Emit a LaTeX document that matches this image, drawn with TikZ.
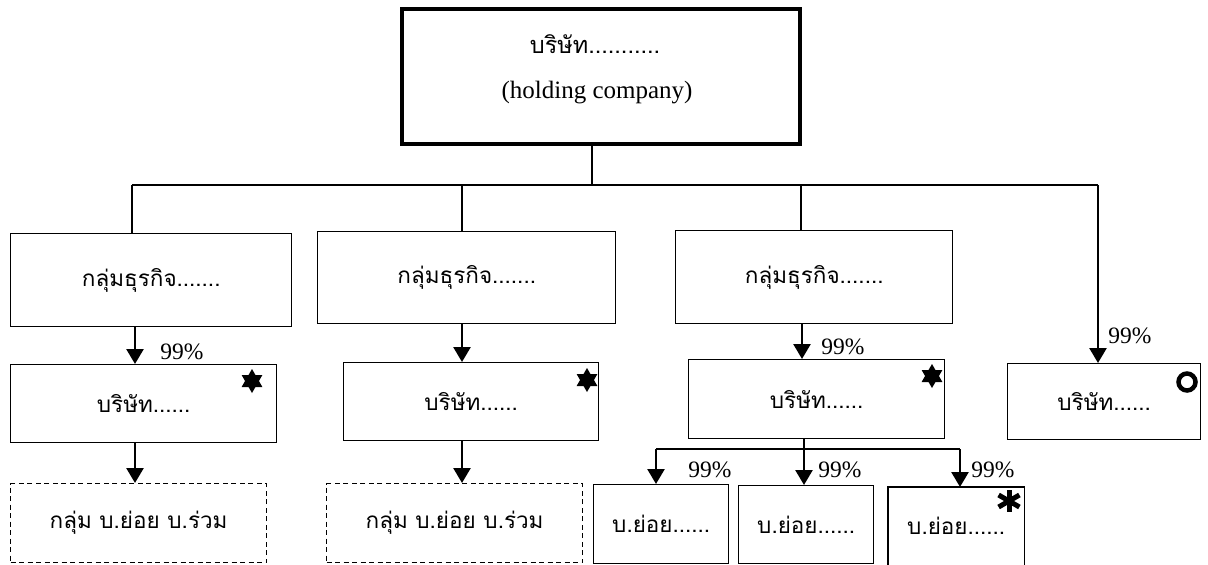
\documentclass[tikz,border=0pt]{standalone}
\usepackage{fontspec}
\setmainfont{Liberation Serif}
\newfontfamily\thai[Script=Thai]{Loma}
\usetikzlibrary{arrows.meta}
\tikzset{
  box/.style={draw, line width=1.4pt, inner sep=0pt, anchor=north west, font=\thai\fontsize{22.5}{26}\selectfont},
  topbox/.style={box, line width=3.8pt},
  dbox/.style={box, line width=1.2pt, dash pattern=on 5pt off 3.5pt},
  conn/.style={line width=2.6pt},
  arr/.style={line width=2.6pt, -{Triangle[length=15pt,width=17pt]}},
  pct/.style={inner sep=0pt, font=\fontsize{23.5}{25}\selectfont},
  davidstar/.pic={\fill (90:12pt) -- (210:12pt) -- (330:12pt) -- cycle;
                  \fill (270:12pt) -- (30:12pt) -- (150:12pt) -- cycle;},
  heavyast/.pic={\draw[line width=5pt] (90:11pt) -- (270:11pt);
                 \draw[line width=5pt] (30:12pt) -- (210:12pt);
                 \draw[line width=5pt] (150:12pt) -- (330:12pt);}
}
\begin{document}
\begin{tikzpicture}[x=1pt,y=-1pt]
\useasboundingbox (0,0) rectangle (1208,565);
% top
\node[topbox, minimum width=398pt, minimum height=135pt] (top) at (400,7) {};
\node[inner sep=0pt, font=\thai\fontsize{23.5}{26}\selectfont] (toptxt) at (595,44) {บริษัท...........};
\node[inner sep=0pt, font=\fontsize{25}{27}\selectfont] (toptxt2) at (597,93) {(holding company)};
% groups
\node[box, minimum width=281pt, minimum height=93pt] (g1) at (10,233) {กลุ่มธุรกิจ.......};
\node[box, minimum width=298pt, minimum height=92pt] (g2) at (317,231) {กลุ่มธุรกิจ.......};
\node[box, minimum width=277pt, minimum height=93pt] (g3) at (675,230) {กลุ่มธุรกิจ.......};
% companies
\node[box, minimum width=266pt, minimum height=78pt] (c1) at (10,364) {บริษัท......};
\node[box, minimum width=255pt, minimum height=78pt] (c2) at (343,362) {บริษัท......};
\node[box, minimum width=256pt, minimum height=79pt] (c3) at (688,359) {บริษัท......};
\node[box, minimum width=193pt, minimum height=76pt] (c4) at (1007,363) {บริษัท......};
% dashed groups
\node[dbox, minimum width=256pt, minimum height=79pt] (d1) at (10,483) {กลุ่ม บ.ย่อย บ.ร่วม};
\node[dbox, minimum width=256pt, minimum height=79pt] (d2) at (326,483) {กลุ่ม บ.ย่อย บ.ร่วม};
% subsidiaries
\node[box, minimum width=135pt, minimum height=79pt] (s1) at (593,484) {บ.ย่อย......};
\node[box, minimum width=135pt, minimum height=78pt] (s2) at (738,485) {บ.ย่อย......};
\node[box, draw=none, minimum width=135pt, minimum height=76pt] (s3) at (888,487) {บ.ย่อย......};
\draw[line width=1.4pt] ([yshift=-6pt]s3.south west) |- (s3.north east) -- ([yshift=-6pt]s3.south east);
% connector coordinates
\coordinate (j0) at (592,185);
\coordinate (hl) at (132,185);
\coordinate (hr) at (1098,185);
\coordinate (j2) at (462,185);
\coordinate (j3) at (801,185);
\coordinate (x1) at (135,0);
\coordinate (x2) at (462,0);
\coordinate (x3) at (802,0);
\coordinate (k0) at (804,449);
\coordinate (k1) at (656,449);
\coordinate (k3) at (960,449);
% top tree
\draw[conn] (top.south -| j0) -- (j0);
\draw[conn] (hl) -- (hr);
\draw[conn] (hl) -- (hl |- g1.north);
\draw[conn] (j2) -- (j2 |- g2.north);
\draw[conn] (j3) -- (j3 |- g3.north);
\draw[arr] (hr) -- (hr |- c4.north);
% column arrows
\draw[arr] (x1 |- g1.south) -- (x1 |- c1.north);
\draw[arr] (x1 |- c1.south) -- (x1 |- d1.north);
\draw[arr] (x2 |- g2.south) -- (x2 |- c2.north);
\draw[arr] (x2 |- c2.south) -- (x2 |- d2.north);
\draw[arr] (x3 |- g3.south) -- (x3 |- c3.north);
% distribution
\draw[conn] (k0 |- c3.south) -- (k0);
\draw[conn] (k1) -- (k3);
\draw[arr] (k1) -- (k1 |- s1.north);
\draw[arr] (k0) -- (k0 |- s2.north);
\draw[arr] (k3) -- (k3 |- s3.north);
% percentages
\node[pct] (p1) at (182,352) {99\%};
\node[pct] (p3) at (843,347) {99\%};
\node[pct] (p4) at (1130,336) {99\%};
\node[pct] (p5) at (710,470) {99\%};
\node[pct] (p6) at (840,470) {99\%};
\node[pct] (p7) at (993,470) {99\%};
% marks
\pic at (252,381) {davidstar};
\pic at (587,380) {davidstar};
\pic at (932,376) {davidstar};
\draw[line width=4.5pt] (1187,382) circle (8.5pt);
\pic at (1009,501) {heavyast};
\end{tikzpicture}
\end{document}
